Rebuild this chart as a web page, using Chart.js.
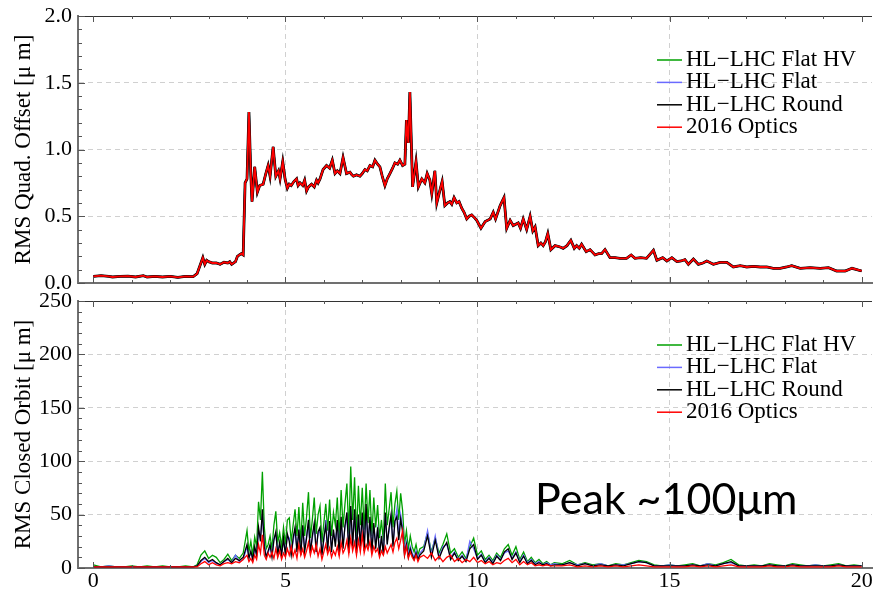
<!DOCTYPE html>
<html>
<head>
<meta charset="utf-8">
<script src="https://cdn.jsdelivr.net/npm/chart.js@4.4.0/dist/chart.umd.min.js"></script>
<style>
  html, body { margin: 0; padding: 0; background: #fff; }
  #wrap { position: relative; width: 873px; height: 592px; overflow: hidden; }
  #quad { position: absolute; left: 0; top: 0; }
  #orbit { position: absolute; left: 0; top: 292px; }
  #note { position: absolute; left: 535px; top: 472px; font-family: Lato, "Open Sans", sans-serif;
          font-size: 43px; color: #000; white-space: nowrap; }
</style>
</head>
<body>
<div id="wrap">
  <canvas id="quad" width="873" height="292"></canvas>
  <canvas id="orbit" width="873" height="300"></canvas>
  <div id="note">Peak ~100μm</div>
</div>
<script>
// legend labels (top to bottom)
const seriesNames = ["HL\u2212LHC Flat HV", "HL\u2212LHC Flat", "HL\u2212LHC Round", "2016 Optics"];

// tick labels
const xTicks = [0, 5, 10, 15, 20];
const quadTicks = [0, 0.5, 1.0, 1.5, 2.0];
const orbitTicks = [0, 50, 100, 150, 200, 250];

// top panel: RMS quad offset, all four optics give practically the same curve
const quadX = [0, 0.2, 0.4, 0.5, 0.7, 0.9, 1.1, 1.3, 1.4, 1.6, 1.8, 2.0, 2.2, 2.4, 2.6, 2.7, 2.8, 2.85, 2.9, 2.95,
  3.0, 3.1, 3.2, 3.3, 3.4, 3.5, 3.55, 3.6, 3.7, 3.75, 3.8, 3.85, 3.9, 3.95, 4.0, 4.05, 4.1, 4.13, 4.2, 4.27,
  4.33, 4.42, 4.49, 4.55, 4.6, 4.68, 4.75, 4.82, 4.86, 4.93, 4.99, 5.05, 5.1, 5.15, 5.22, 5.29, 5.33, 5.38, 5.45, 5.5,
  5.55, 5.6, 5.68, 5.75, 5.81, 5.85, 5.9, 5.98, 6.07, 6.15, 6.22, 6.29, 6.35, 6.42, 6.5, 6.59, 6.68, 6.73, 6.77, 6.85,
  6.94, 7.0, 7.07, 7.13, 7.2, 7.27, 7.33, 7.4, 7.46, 7.52, 7.59, 7.65, 7.72, 7.79, 7.85, 7.92, 7.98, 8.05, 8.11, 8.15,
  8.2, 8.24, 8.31, 8.4, 8.46, 8.55, 8.63, 8.69, 8.76, 8.81, 8.89, 8.94, 9.0, 9.08, 9.15, 9.22, 9.28, 9.33, 9.39, 9.46,
  9.52, 9.59, 9.65, 9.72, 9.78, 9.85, 9.92, 9.98, 10.09, 10.2, 10.33, 10.41, 10.47, 10.59, 10.69, 10.76, 10.85, 10.93, 11.06, 11.12,
  11.19, 11.28, 11.37, 11.44, 11.5, 11.58, 11.65, 11.71, 11.77, 11.83, 11.91, 12.02, 12.15, 12.23, 12.33, 12.43, 12.52, 12.58, 12.65, 12.71,
  12.83, 12.93, 13.06, 13.15, 13.23, 13.32, 13.45, 13.58, 13.71, 13.88, 14.0, 14.1, 14.25, 14.4, 14.58, 14.67, 14.82, 14.93, 15.06, 15.19,
  15.3, 15.4, 15.49, 15.62, 15.75, 15.87, 15.97, 16.14, 16.32, 16.49, 16.66, 16.84, 17.01, 17.18, 17.36, 17.53, 17.7, 17.88, 18.05, 18.18,
  18.4, 18.66, 18.92, 19.14, 19.35, 19.57, 19.75, 20.0];
const quadY = [0.05, 0.055, 0.05, 0.045, 0.05, 0.052, 0.045, 0.055, 0.045, 0.05, 0.045, 0.05, 0.042, 0.05, 0.048, 0.07, 0.15, 0.19, 0.14, 0.17,
  0.16, 0.15, 0.15, 0.14, 0.155, 0.15, 0.16, 0.14, 0.16, 0.2, 0.21, 0.22, 0.21, 0.75, 0.78, 1.28, 0.8, 0.61, 0.87, 0.68,
  0.73, 0.74, 0.82, 0.88, 0.8, 1.02, 0.8, 0.84, 0.78, 0.91, 0.78, 0.71, 0.74, 0.73, 0.76, 0.78, 0.73, 0.75, 0.73, 0.77,
  0.69, 0.72, 0.74, 0.72, 0.77, 0.75, 0.78, 0.85, 0.88, 0.86, 0.92, 0.82, 0.84, 0.82, 0.94, 0.82, 0.83, 0.81, 0.8, 0.81,
  0.8, 0.82, 0.85, 0.84, 0.88, 0.87, 0.92, 0.89, 0.87, 0.8, 0.73, 0.78, 0.82, 0.86, 0.9, 0.89, 0.92, 0.88, 0.89, 1.22,
  1.05, 1.43, 0.72, 0.91, 0.72, 0.78, 0.75, 0.82, 0.77, 0.67, 0.84, 0.6, 0.67, 0.76, 0.58, 0.6, 0.61, 0.59, 0.64, 0.6,
  0.61, 0.56, 0.53, 0.48, 0.5, 0.51, 0.49, 0.47, 0.41, 0.46, 0.48, 0.53, 0.48, 0.58, 0.64, 0.41, 0.47, 0.43, 0.45, 0.41,
  0.48, 0.4, 0.5, 0.39, 0.42, 0.28, 0.3, 0.28, 0.31, 0.37, 0.25, 0.28, 0.27, 0.26, 0.28, 0.32, 0.26, 0.28, 0.26, 0.29,
  0.235, 0.25, 0.21, 0.22, 0.22, 0.25, 0.19, 0.19, 0.185, 0.185, 0.21, 0.185, 0.19, 0.185, 0.245, 0.17, 0.19, 0.165, 0.19, 0.16,
  0.165, 0.175, 0.14, 0.18, 0.14, 0.15, 0.165, 0.14, 0.155, 0.155, 0.12, 0.13, 0.12, 0.125, 0.12, 0.12, 0.11, 0.11, 0.12, 0.13,
  0.11, 0.115, 0.11, 0.115, 0.09, 0.09, 0.11, 0.09];

// bottom panel: RMS closed orbit, sample positions
const orbitX = [
  0, 0.2, 0.4, 0.6, 0.8, 1.0, 1.2, 1.4, 1.6, 1.8, 2.0, 2.2, 2.4, 2.6,
  2.7, 2.8, 2.9, 3.0, 3.1, 3.2, 3.3, 3.4, 3.5, 3.6, 3.7, 3.8, 3.9,
  4.0, 4.05, 4.1, 4.15, 4.2, 4.25, 4.3, 4.35, 4.4, 4.45,
  4.5, 4.55, 4.6, 4.65, 4.7, 4.75, 4.8, 4.85, 4.9, 4.95,
  5.0, 5.05, 5.1, 5.15, 5.2, 5.25, 5.3, 5.35, 5.4, 5.45,
  5.5, 5.55, 5.6, 5.65, 5.7, 5.75, 5.8, 5.85, 5.9, 5.95,
  6.0, 6.05, 6.1, 6.15, 6.2, 6.25, 6.3, 6.35, 6.4, 6.45,
  6.5, 6.55, 6.6, 6.65, 6.7, 6.75, 6.8, 6.85, 6.9, 6.95,
  7.0, 7.05, 7.1, 7.15, 7.2, 7.25, 7.3, 7.35, 7.4, 7.45,
  7.5, 7.55, 7.6, 7.65, 7.7, 7.75, 7.8, 7.85, 7.9, 7.95,
  8.0, 8.05, 8.1, 8.15, 8.2, 8.25, 8.3, 8.35, 8.4, 8.45,
  8.5,
  8.6, 8.7, 8.8, 8.9, 9.0, 9.1, 9.2, 9.3, 9.4, 9.5, 9.6, 9.7, 9.8, 9.9, 10.0, 10.1, 10.2, 10.3,
  10.4, 10.5, 10.6, 10.7, 10.8, 10.9, 11.0, 11.1, 11.2, 11.3, 11.4, 11.5, 11.6, 11.7, 11.8, 11.9, 12.0,
  12.2, 12.4, 12.6, 12.8, 13.0, 13.2, 13.4, 13.6, 13.8, 14.0, 14.2, 14.4, 14.6, 14.8, 15.0, 15.2, 15.4, 15.6, 15.8, 16.0,
  16.2, 16.4, 16.6, 16.8, 17.0, 17.2, 17.4, 17.6, 17.8, 18.0, 18.2, 18.4, 18.6, 18.8, 19.0, 19.2, 19.4, 19.6, 19.8, 20.0];

const orbitFlatHV = [
  3, 1, 2, 1, 1, 2, 1, 2, 1, 2, 1, 1, 2, 1,
  3, 12, 16, 9, 12, 10, 5, 8, 13, 7, 12, 9, 14,
  35, 15, 25, 12, 29, 20, 62, 45, 90, 38,
  18, 22, 30, 18, 40, 53, 24, 33, 20, 38,
  22, 45, 47, 25, 40, 55, 30, 57, 22, 61,
  30, 48, 71, 28, 45, 66, 32, 50, 58, 24,
  42, 60, 35, 64, 30, 52, 40, 66, 28, 73,
  38, 60, 79, 32, 95, 45, 85, 30, 77, 40,
  75, 36, 79, 42, 73, 30, 66, 38, 59, 28,
  45, 25, 79, 40, 55, 71, 38, 60, 72, 45,
  70, 54, 22, 35, 18, 30, 20, 15, 22, 12,
  18,
  20, 33, 15, 28, 14, 22, 32, 14, 18, 10, 15, 9, 20, 28, 12, 16, 8, 12,
  7, 14, 10, 18, 22, 12, 20, 8, 15, 6, 10, 5, 8, 4, 6, 3, 5,
  4, 7, 3, 5, 3, 4, 2, 4, 3, 5, 7, 6, 3, 2, 3, 2, 3, 4, 2, 4,
  3, 5, 8, 3, 2, 3, 2, 4, 3, 2, 4, 3, 2, 3, 2, 3, 4, 2, 3, 2];

const orbitFlat = [
  1, 1, 2, 1, 1, 1, 1, 1, 1, 1, 1, 1, 1, 1,
  2, 6, 9, 5, 7, 4, 3, 6, 8, 5, 12, 6, 8,
  20, 10, 14, 8, 18, 12, 35, 28, 50, 22,
  12, 14, 20, 12, 28, 32, 15, 22, 14, 25,
  15, 30, 28, 14, 25, 35, 18, 33, 14, 38,
  18, 30, 42, 16, 28, 40, 18, 32, 36, 14,
  26, 45, 20, 40, 18, 33, 24, 42, 16, 44,
  22, 38, 48, 18, 55, 25, 50, 18, 46, 24,
  48, 20, 52, 25, 45, 18, 40, 22, 36, 16,
  28, 15, 50, 25, 35, 48, 22, 42, 55, 30,
  50, 38, 15, 25, 12, 20, 14, 10, 16, 9,
  14,
  18, 35, 12, 30, 10, 20, 22, 10, 15, 8, 12, 7, 25, 18, 9, 13, 6, 10,
  5, 12, 8, 14, 16, 9, 15, 6, 12, 5, 8, 4, 6, 3, 5, 3, 4,
  3, 5, 3, 4, 2, 4, 2, 3, 3, 4, 6, 5, 2, 2, 3, 2, 2, 3, 2, 4,
  2, 4, 5, 2, 2, 2, 2, 3, 2, 2, 3, 2, 2, 3, 2, 2, 3, 2, 2, 2];

const orbitRound = [
  1, 1, 1, 1, 1, 1, 1, 1, 1, 1, 1, 1, 1, 1,
  2, 7, 10, 6, 8, 5, 3, 6, 9, 5, 9, 7, 10,
  22, 9, 16, 8, 20, 12, 38, 25, 55, 20,
  10, 16, 22, 10, 26, 34, 12, 24, 12, 28,
  12, 32, 25, 12, 28, 38, 15, 36, 12, 40,
  15, 28, 45, 14, 30, 42, 15, 34, 38, 12,
  28, 40, 16, 44, 15, 36, 20, 45, 12, 48,
  18, 40, 52, 14, 58, 20, 55, 14, 50, 20,
  52, 16, 60, 20, 48, 14, 42, 18, 38, 12,
  30, 12, 52, 22, 38, 50, 20, 44, 48, 26,
  46, 34, 12, 22, 10, 18, 12, 8, 14, 8,
  12,
  16, 30, 10, 26, 9, 18, 24, 8, 14, 7, 11, 6, 18, 22, 8, 12, 5, 9,
  4, 11, 7, 15, 18, 8, 14, 5, 11, 4, 7, 3, 5, 3, 4, 2, 3,
  3, 5, 2, 4, 2, 3, 2, 3, 2, 4, 6, 5, 2, 2, 2, 2, 2, 3, 2, 3,
  2, 4, 6, 2, 2, 2, 2, 3, 2, 2, 3, 2, 2, 2, 2, 2, 3, 2, 2, 2];

const orbit2016 = [
  1, 1, 1, 1, 1, 1, 1, 1, 1, 1, 1, 1, 1, 1,
  1, 4, 6, 3, 5, 3, 2, 4, 5, 4, 6, 5, 8,
  12, 6, 9, 5, 12, 8, 22, 14, 31, 12,
  8, 14, 10, 15, 9, 18, 10, 16, 8, 14,
  10, 18, 12, 20, 11, 17, 9, 22, 12, 18,
  10, 16, 24, 12, 20, 14, 22, 11, 18, 8,
  15, 22, 13, 19, 10, 16, 12, 20, 11, 24,
  14, 18, 26, 13, 28, 16, 24, 12, 26, 15,
  31, 14, 22, 17, 25, 12, 20, 15, 18, 10,
  16, 12, 20, 14, 18, 22, 15, 24, 28, 18,
  26, 35, 12, 20, 9, 15, 10, 7, 12, 6,
  10,
  12, 9, 14, 7, 11, 6, 10, 12, 6, 9, 5, 8, 6, 10, 5, 7, 4, 6,
  3, 5, 4, 7, 9, 5, 8, 3, 6, 3, 5, 2, 3, 2, 3, 2, 2,
  2, 3, 1, 2, 1, 2, 1, 2, 1, 2, 3, 2, 1, 1, 1, 1, 1, 2, 1, 2,
  1, 2, 3, 1, 1, 1, 1, 2, 1, 1, 2, 1, 1, 1, 1, 1, 2, 1, 1, 1];

// styles
const lineColors = ["#00a000", "#6a6aff", "#000000", "#ff0000"];
const serif = "'Liberation Serif', 'DejaVu Serif', serif";

function pts(xs, ys) {
  return xs.map((x, i) => ({ x: x, y: ys[i] }));
}

// frame, inward ticks and the legend block
const framePlugin = {
  id: "frame",
  afterDraw(chart, args, o) {
    const { ctx, chartArea: a, scales: { x, y } } = chart;
    ctx.save();
    ctx.strokeStyle = "#333";
    ctx.lineWidth = 1;
    ctx.beginPath();
    ctx.moveTo(a.left, a.top + 0.5);
    ctx.lineTo(a.right, a.top + 0.5);
    ctx.stroke();

    ctx.strokeStyle = "#555";
    ctx.beginPath();
    for (let v = 0; v <= 20.001; v += 1) {
      const px = Math.round(x.getPixelForValue(v)) + 0.5;
      const len = (Math.round(v) % 5 === 0) ? 6 : 3;
      ctx.moveTo(px, a.bottom);
      ctx.lineTo(px, a.bottom - len);
      ctx.moveTo(px, a.top);
      ctx.lineTo(px, a.top + len);
    }
    for (let k = 0; k * o.yMinor <= y.max + 1e-9; k++) {
      const v = k * o.yMinor;
      const py = Math.round(y.getPixelForValue(v)) + 0.5;
      const len = (k % o.yPer === 0) ? 7 : 4;
      ctx.moveTo(a.left, py);
      ctx.lineTo(a.left + len, py);
    }
    ctx.stroke();

    // legend
    ctx.font = "23px " + serif;
    ctx.textBaseline = "middle";
    ctx.textAlign = "left";
    seriesNames.forEach((name, i) => {
      const ly = a.top + 44 + i * 22.4;
      ctx.strokeStyle = lineColors[i];
      ctx.lineWidth = 1.5;
      ctx.beginPath();
      ctx.moveTo(657, ly);
      ctx.lineTo(682, ly);
      ctx.stroke();
      ctx.fillStyle = "#000";
      ctx.fillText(name, 686, ly);
    });
    ctx.restore();
  }
};

function makeChart(id, xs, ysList, widths, yTicks, yTitle, opts) {
  const datasets = ysList.map((ys, i) => ({
    label: seriesNames[i],
    data: pts(xs, ys),
    borderColor: lineColors[i],
    borderWidth: widths[i],
    pointRadius: 0,
    tension: 0,
    order: 4 - i
  }));
  return new Chart(document.getElementById(id), {
    type: "line",
    data: { datasets: datasets },
    options: {
      responsive: false,
      animation: false,
      events: [],
      layout: { padding: { top: opts.top, right: 1, left: 0, bottom: 0 } },
      plugins: { legend: { display: false }, tooltip: { enabled: false }, frame: opts.frame },
      scales: {
        x: {
          type: "linear",
          min: -0.4,
          max: 20.27,
          afterBuildTicks: s => { s.ticks = xTicks.map(v => ({ value: v })); },
          afterFit: s => { s.height = opts.xh; s.paddingLeft = 0; s.paddingRight = 0; },
          ticks: { display: opts.xLabels, color: "#000", padding: 0, font: { family: serif, size: 22 } },
          grid: {
            drawTicks: false,
            color: c => (c.tick && c.tick.value > 0 && c.tick.value < 20) ? "#d0d0d0" : "rgba(0,0,0,0)"
          },
          border: { color: "#707070", width: 2, dash: [5, 4] }
        },
        y: {
          min: yTicks[0],
          max: yTicks[yTicks.length - 1],
          afterBuildTicks: s => { s.ticks = yTicks.map(v => ({ value: v })); },
          afterFit: s => { s.width = 78; s.paddingTop = 0; s.paddingBottom = 0; },
          ticks: {
            color: "#000", padding: 6, font: { family: serif, size: 22 },
            callback: v => opts.fmt(v)
          },
          title: { display: true, text: yTitle, color: "#000", font: { family: serif, size: 23 }, padding: { top: 10, bottom: 0 } },
          grid: {
            drawTicks: false,
            color: c => (c.tick && c.tick.value > yTicks[0] && c.tick.value < yTicks[yTicks.length - 1]) ? "#d0d0d0" : "rgba(0,0,0,0)"
          },
          border: { color: "#707070", width: 2, dash: [5, 4] }
        }
      }
    },
    plugins: [framePlugin]
  });
}

makeChart("quad", quadX, [quadY, quadY, quadY, quadY], [2, 2, 2.8, 1.8], quadTicks,
  "RMS Quad. Offset [\u03bc m]",
  { top: 16, xh: 9, xLabels: false, fmt: v => v.toFixed(1), frame: { yMinor: 0.1, yPer: 5 } });

makeChart("orbit", orbitX, [orbitFlatHV, orbitFlat, orbitRound, orbit2016], [1.3, 1.3, 1.3, 1.3], orbitTicks,
  "RMS Closed Orbit [\u03bc m]",
  { top: 9, xh: 24, xLabels: true, fmt: v => String(v), frame: { yMinor: 10, yPer: 5 } });
</script>
</body>
</html>
